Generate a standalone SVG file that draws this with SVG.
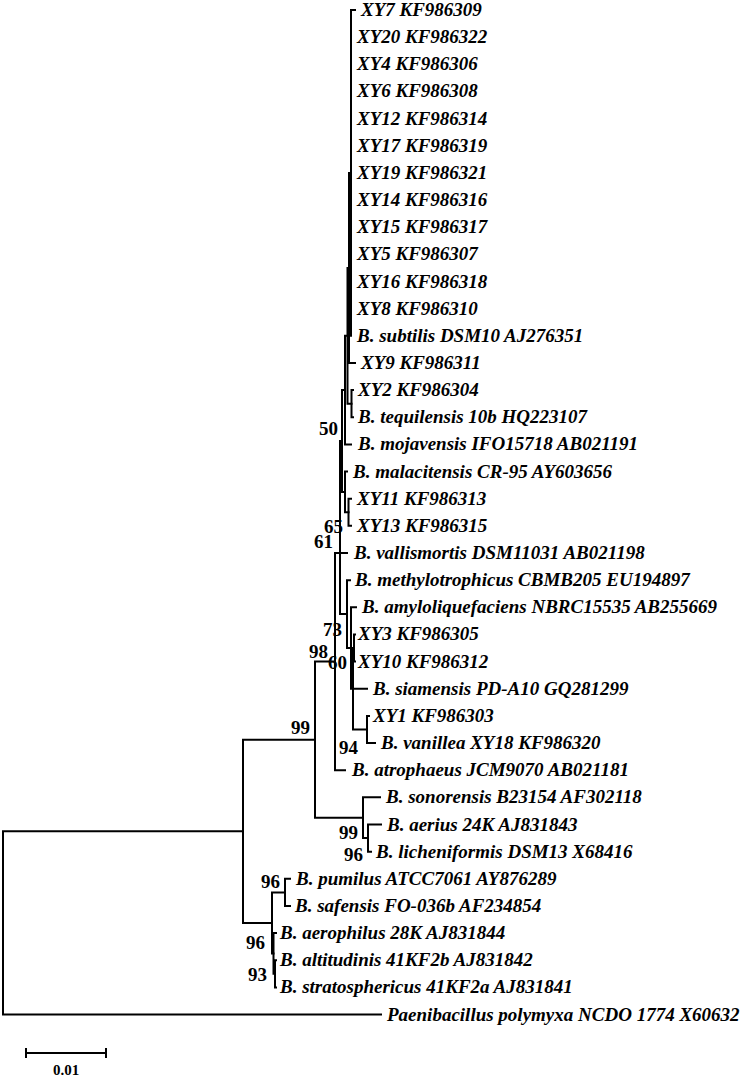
<svg xmlns="http://www.w3.org/2000/svg" width="742" height="1076" viewBox="0 0 742 1076">
<style>
.br{fill:none;stroke:#000;stroke-width:2;stroke-linecap:square}
.t{font-family:"Liberation Serif","Times New Roman",serif;font-weight:bold;font-style:italic;font-size:19px;fill:#000}
.bs{font-family:"Liberation Serif","Times New Roman",serif;font-weight:bold;font-size:19px;fill:#000;text-anchor:end}
</style>
<rect width="742" height="1076" fill="#fff"/>
<g id="connectors" class="br">
<path d="M351,10V335.8M351,10H355"/>
<path d="M349,172.9V362.95M349,172.9H351M349,362.95H355"/>
<path d="M351.5,390.1V417.25M351.5,390.1H353M351.5,417.25H353"/>
<path d="M347.5,267.9V403.7M347.5,267.9H349M347.5,403.7H351.5"/>
<path d="M345,335.8V444.4M345,335.8H347.5M345,444.4H351"/>
<path d="M342,390.1V491.9M342,390.1H345M342,491.9H345"/>
<path d="M345,471.55V512.3M345,471.55H347M345,512.3H348.5"/>
<path d="M348.5,498.7V525.85M348.5,498.7H351M348.5,525.85H351"/>
<path d="M340,441V614.1M340,441H342M340,614.1H347"/>
<path d="M335,553V770.2M335,553H347M335,770.2H345"/>
<path d="M347,580.15V648M347,580.15H350M347,648H351"/>
<path d="M351,607.3V688.75M351,607.3H356M351,688.75H353"/>
<path d="M353,648V729.5M353,648H354M353,688.75H367M353,729.5H367"/>
<path d="M354,634.45V661.6M354,634.45H355M354,661.6H355"/>
<path d="M367,715.9V743.05M367,715.9H369M367,743.05H375"/>
<path d="M315,661.6V817.7M315,661.6H335M315,817.7H363"/>
<path d="M363,797.35V838.1M363,797.35H380M363,838.1H368"/>
<path d="M368,824.5V851.65M368,824.5H381M368,851.65H371"/>
<path d="M243,739.65V922.9M243,739.65H315M243,922.9H272"/>
<path d="M272,892.4V953.45M272,892.4H285M272,953.45H273.5"/>
<path d="M285,878.8V905.95M285,878.8H290M285,905.95H290"/>
<path d="M273.5,933.1V973.8M273.5,933.1H276M273.5,973.8H275"/>
<path d="M275,960.25V987.4M275,960.25H276M275,987.4H276"/>
<path d="M3,831.3V1014.55M3,831.3H243M3,1014.55H381"/>
</g>
<g id="leaves" class="t">
<text id="XY7" x="361" y="16">XY7 KF986309</text>
<text id="XY20" x="357" y="43.15">XY20 KF986322</text>
<text id="XY4" x="357" y="70.3">XY4 KF986306</text>
<text id="XY6" x="357" y="97.45">XY6 KF986308</text>
<text id="XY12" x="357" y="124.6">XY12 KF986314</text>
<text id="XY17" x="357" y="151.75">XY17 KF986319</text>
<text id="XY19" x="357" y="178.9">XY19 KF986321</text>
<text id="XY14" x="357" y="206.05">XY14 KF986316</text>
<text id="XY15" x="357" y="233.2">XY15 KF986317</text>
<text id="XY5" x="357" y="260.35">XY5 KF986307</text>
<text id="XY16" x="357" y="287.5">XY16 KF986318</text>
<text id="XY8" x="357" y="314.65">XY8 KF986310</text>
<text id="subtilis" x="357" y="341.8">B. subtilis DSM10 AJ276351</text>
<text id="XY9" x="361" y="368.95">XY9 KF986311</text>
<text id="XY2" x="358" y="396.1">XY2 KF986304</text>
<text id="tequilensis" x="358" y="423.25">B. tequilensis 10b HQ223107</text>
<text id="mojavensis" x="358" y="450.4">B. mojavensis IFO15718 AB021191</text>
<text id="malacitensis" x="353" y="477.55">B. malacitensis CR-95 AY603656</text>
<text id="XY11" x="357" y="504.7">XY11 KF986313</text>
<text id="XY13" x="357" y="531.85">XY13 KF986315</text>
<text id="vallismortis" x="354" y="559">B. vallismortis DSM11031 AB021198</text>
<text id="methylotrophicus" x="355" y="586.15">B. methylotrophicus CBMB205 EU194897</text>
<text id="amyloliquefaciens" x="362" y="613.3">B. amyloliquefaciens NBRC15535 AB255669</text>
<text id="XY3" x="358" y="640.45">XY3 KF986305</text>
<text id="XY10" x="358" y="667.6">XY10 KF986312</text>
<text id="siamensis" x="373" y="694.75">B. siamensis PD-A10 GQ281299</text>
<text id="XY1" x="373" y="721.9">XY1 KF986303</text>
<text id="vanillea" x="381" y="749.05">B. vanillea XY18 KF986320</text>
<text id="atrophaeus" x="352" y="776.2">B. atrophaeus JCM9070 AB021181</text>
<text id="sonorensis" x="386" y="803.35">B. sonorensis B23154 AF302118</text>
<text id="aerius" x="387" y="830.5">B. aerius 24K AJ831843</text>
<text id="licheniformis" x="376" y="857.65">B. licheniformis DSM13 X68416</text>
<text id="pumilus" x="296" y="884.8">B. pumilus ATCC7061 AY876289</text>
<text id="safensis" x="295" y="911.95">B. safensis FO-036b AF234854</text>
<text id="aerophilus" x="280" y="939.1">B. aerophilus 28K AJ831844</text>
<text id="altitudinis" x="280" y="966.25">B. altitudinis 41KF2b AJ831842</text>
<text id="stratosphericus" x="280" y="993.4">B. stratosphericus 41KF2a AJ831841</text>
<text id="paenibacillus" x="387" y="1020.55">Paenibacillus polymyxa NCDO 1774 X60632</text>
</g>
<g id="bootstrap" class="bs">
<text x="338" y="435">50</text>
<text x="343" y="533">65</text>
<text x="333" y="548">61</text>
<text x="342" y="636">73</text>
<text x="328" y="658">98</text>
<text x="347" y="669">60</text>
<text x="310" y="734">99</text>
<text x="358" y="754">94</text>
<text x="358" y="839">99</text>
<text x="363" y="861">96</text>
<text x="280" y="888">96</text>
<text x="265" y="949">96</text>
<text x="267" y="981">93</text>
</g>
<g id="scalebar">
<path class="br" d="M26,1053H106M26,1049V1057M106,1049V1057"/>
<text x="66" y="1075" style="font-family:'Liberation Serif','Times New Roman',serif;font-weight:bold;font-size:15px;text-anchor:middle">0.01</text>
</g>
</svg>
